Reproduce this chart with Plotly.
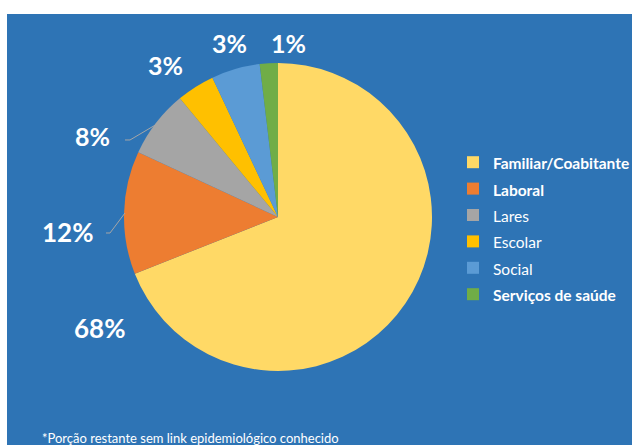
import plotly.graph_objects as go

# Data
categories = ["Familiar/Coabitante", "Laboral", "Lares", "Escolar", "Social", "Serviços de saúde"]
shares = [69.0, 12.9, 7.1, 4.0, 5.1, 1.9]          # slice sizes as drawn
pct_labels = ["68%", "12%", "8%", "3%", "3%", "1%"]  # printed labels
bold_legend = [True, True, False, False, False, True]
colors = ["#FFD966", "#ED7D31", "#A5A5A5", "#FFC000", "#5B9BD5", "#70AD47"]
footnote = "*Porção restante sem link epidemiológico conhecido"

BG = "#2E74B5"
W, H = 632, 445
ML, MT = 7, 14
PW, PH = W - ML, H - MT


def px(x):
    return (x - ML) / PW


def py(y):
    return 1 - (y - MT) / PH


legend_names = [
    f'<span style="font-size:15.5px">{"<b>" + c + "</b>" if b else c}</span>'
    for c, b in zip(categories, bold_legend)
]

cx, cy, r = 278, 217, 154

fig = go.Figure(
    go.Pie(
        labels=legend_names,
        values=shares,
        marker=dict(colors=colors, line=dict(width=0)),
        sort=False,
        direction="clockwise",
        rotation=0,
        textinfo="none",
        hoverinfo="label+percent",
        domain=dict(x=[px(cx - r), px(cx + r)], y=[py(cy + r), py(cy - r)]),
    )
)

# label positions (pixel centers)
label_pos = [(99, 328), (67, 232), (92, 136), (165.5, 65.5), (229.5, 43), (288.5, 43)]
label_sizes = [26, 26, 25, 25, 25, 25]
annotations = []
for t, (x, y), s in zip(pct_labels, label_pos, label_sizes):
    annotations.append(dict(
        x=px(x), y=py(y), xref="paper", yref="paper", text=f"<b>{t}</b>",
        showarrow=False, xanchor="center", yanchor="middle",
        font=dict(family="Lato", size=s, color="white"),
    ))
annotations.append(dict(
    x=px(40), y=py(438), xref="paper", yref="paper", text=footnote,
    showarrow=False, xanchor="left", yanchor="middle",
    font=dict(family="Lato", size=13, color="white"),
))

shapes = [
    dict(type="rect", xref="paper", yref="paper", x0=0, x1=1, y0=0, y1=1,
         fillcolor=BG, line=dict(width=0), layer="below"),
]
for pts in ([(125, 140), (130, 140), (157, 124)], [(106, 233), (110, 233), (125, 213)]):
    path = "M " + " L ".join(f"{px(a):.4f},{py(b):.4f}" for a, b in pts)
    shapes.append(dict(type="path", xref="paper", yref="paper", path=path,
                       line=dict(color="#A6A6A6", width=1)))

fig.update_layout(
    width=W, height=H,
    margin=dict(l=ML, r=0, t=MT, b=0, pad=0, autoexpand=False),
    paper_bgcolor="white",
    plot_bgcolor=BG,
    shapes=shapes,
    annotations=annotations,
    showlegend=True,
    legend=dict(
        x=px(453), y=py(144), xanchor="left", yanchor="top",
        font=dict(family="Lato", size=18, color="white"),
        bgcolor="rgba(0,0,0,0)",
        traceorder="normal",
    ),
    font=dict(family="Lato"),
)

fig.write_html("out.html")
